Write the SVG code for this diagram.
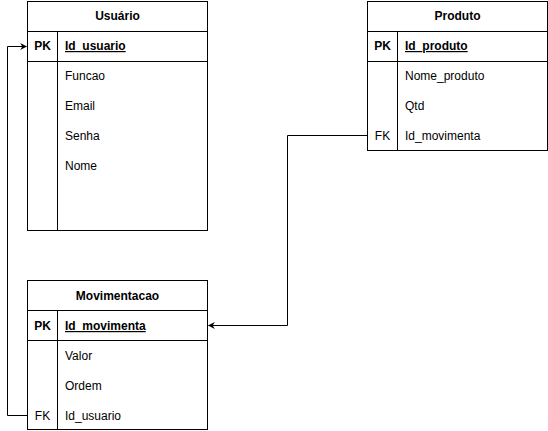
<svg xmlns="http://www.w3.org/2000/svg" width="548" height="431" viewBox="0 0 548 431">
<style>
text{font-family:"Liberation Sans",Arial,sans-serif;font-size:12px;fill:#000}
.t{font-weight:bold;text-anchor:middle}
.k{font-weight:bold;text-anchor:middle}
.pk{font-weight:bold;text-decoration:underline}
.f{}
rect,line{stroke:#000;stroke-width:1;fill:#fff}
.c{fill:none;stroke:#000;stroke-width:1}
</style>
<defs>
<marker id="a" viewBox="0 0 10 10" refX="9" refY="5" markerWidth="7" markerHeight="7" orient="auto" markerUnits="userSpaceOnUse"><path d="M0,0 L10,5 L0,10 L3,5 Z" fill="#000"/></marker>
</defs>
<g id="usuario">
<rect x="27.5" y="1.5" width="180" height="229"/>
<line x1="27.5" y1="31.5" x2="207.5" y2="31.5"/>
<line x1="27.5" y1="61.5" x2="207.5" y2="61.5"/>
<line x1="57.5" y1="31.5" x2="57.5" y2="230.5"/>
<text class="t" x="117.5" y="20">Usuário</text>
<text class="k" x="42.5" y="50">PK</text>
<text class="pk" x="65" y="50">Id_usuario</text>
<text x="65" y="80">Funcao</text>
<text x="65" y="110">Email</text>
<text x="65" y="140">Senha</text>
<text x="65" y="170">Nome</text>
</g>
<g id="produto">
<rect x="367.5" y="1.5" width="180" height="149"/>
<line x1="367.5" y1="31.5" x2="547.5" y2="31.5"/>
<line x1="367.5" y1="61.5" x2="547.5" y2="61.5"/>
<line x1="397.5" y1="31.5" x2="397.5" y2="150.5"/>
<text class="t" x="457.5" y="20">Produto</text>
<text class="k" x="382.5" y="50">PK</text>
<text class="pk" x="405" y="50">Id_produto</text>
<text x="405" y="80">Nome_produto</text>
<text x="405" y="110">Qtd</text>
<text class="k" x="382.5" y="140" style="font-weight:normal">FK</text>
<text x="405" y="140">Id_movimenta</text>
</g>
<g id="movimentacao">
<rect x="27.5" y="280.5" width="180" height="149"/>
<line x1="27.5" y1="310.5" x2="207.5" y2="310.5"/>
<line x1="27.5" y1="340.5" x2="207.5" y2="340.5"/>
<line x1="57.5" y1="310.5" x2="57.5" y2="429.5"/>
<text class="t" x="117.5" y="300">Movimentacao</text>
<text class="k" x="42.5" y="330">PK</text>
<text class="pk" x="65" y="330">Id_movimenta</text>
<text x="65" y="360">Valor</text>
<text x="65" y="390">Ordem</text>
<text class="k" x="42.5" y="420" style="font-weight:normal">FK</text>
<text x="65" y="420">Id_usuario</text>
</g>
<g id="connectors">
<path class="c" d="M27.5,415.5 H7.5 V46.5 H26.5" marker-end="url(#a)"/>
<path class="c" d="M367.5,135.5 H287.5 V325.5 H208.5" marker-end="url(#a)"/>
</g>
</svg>
